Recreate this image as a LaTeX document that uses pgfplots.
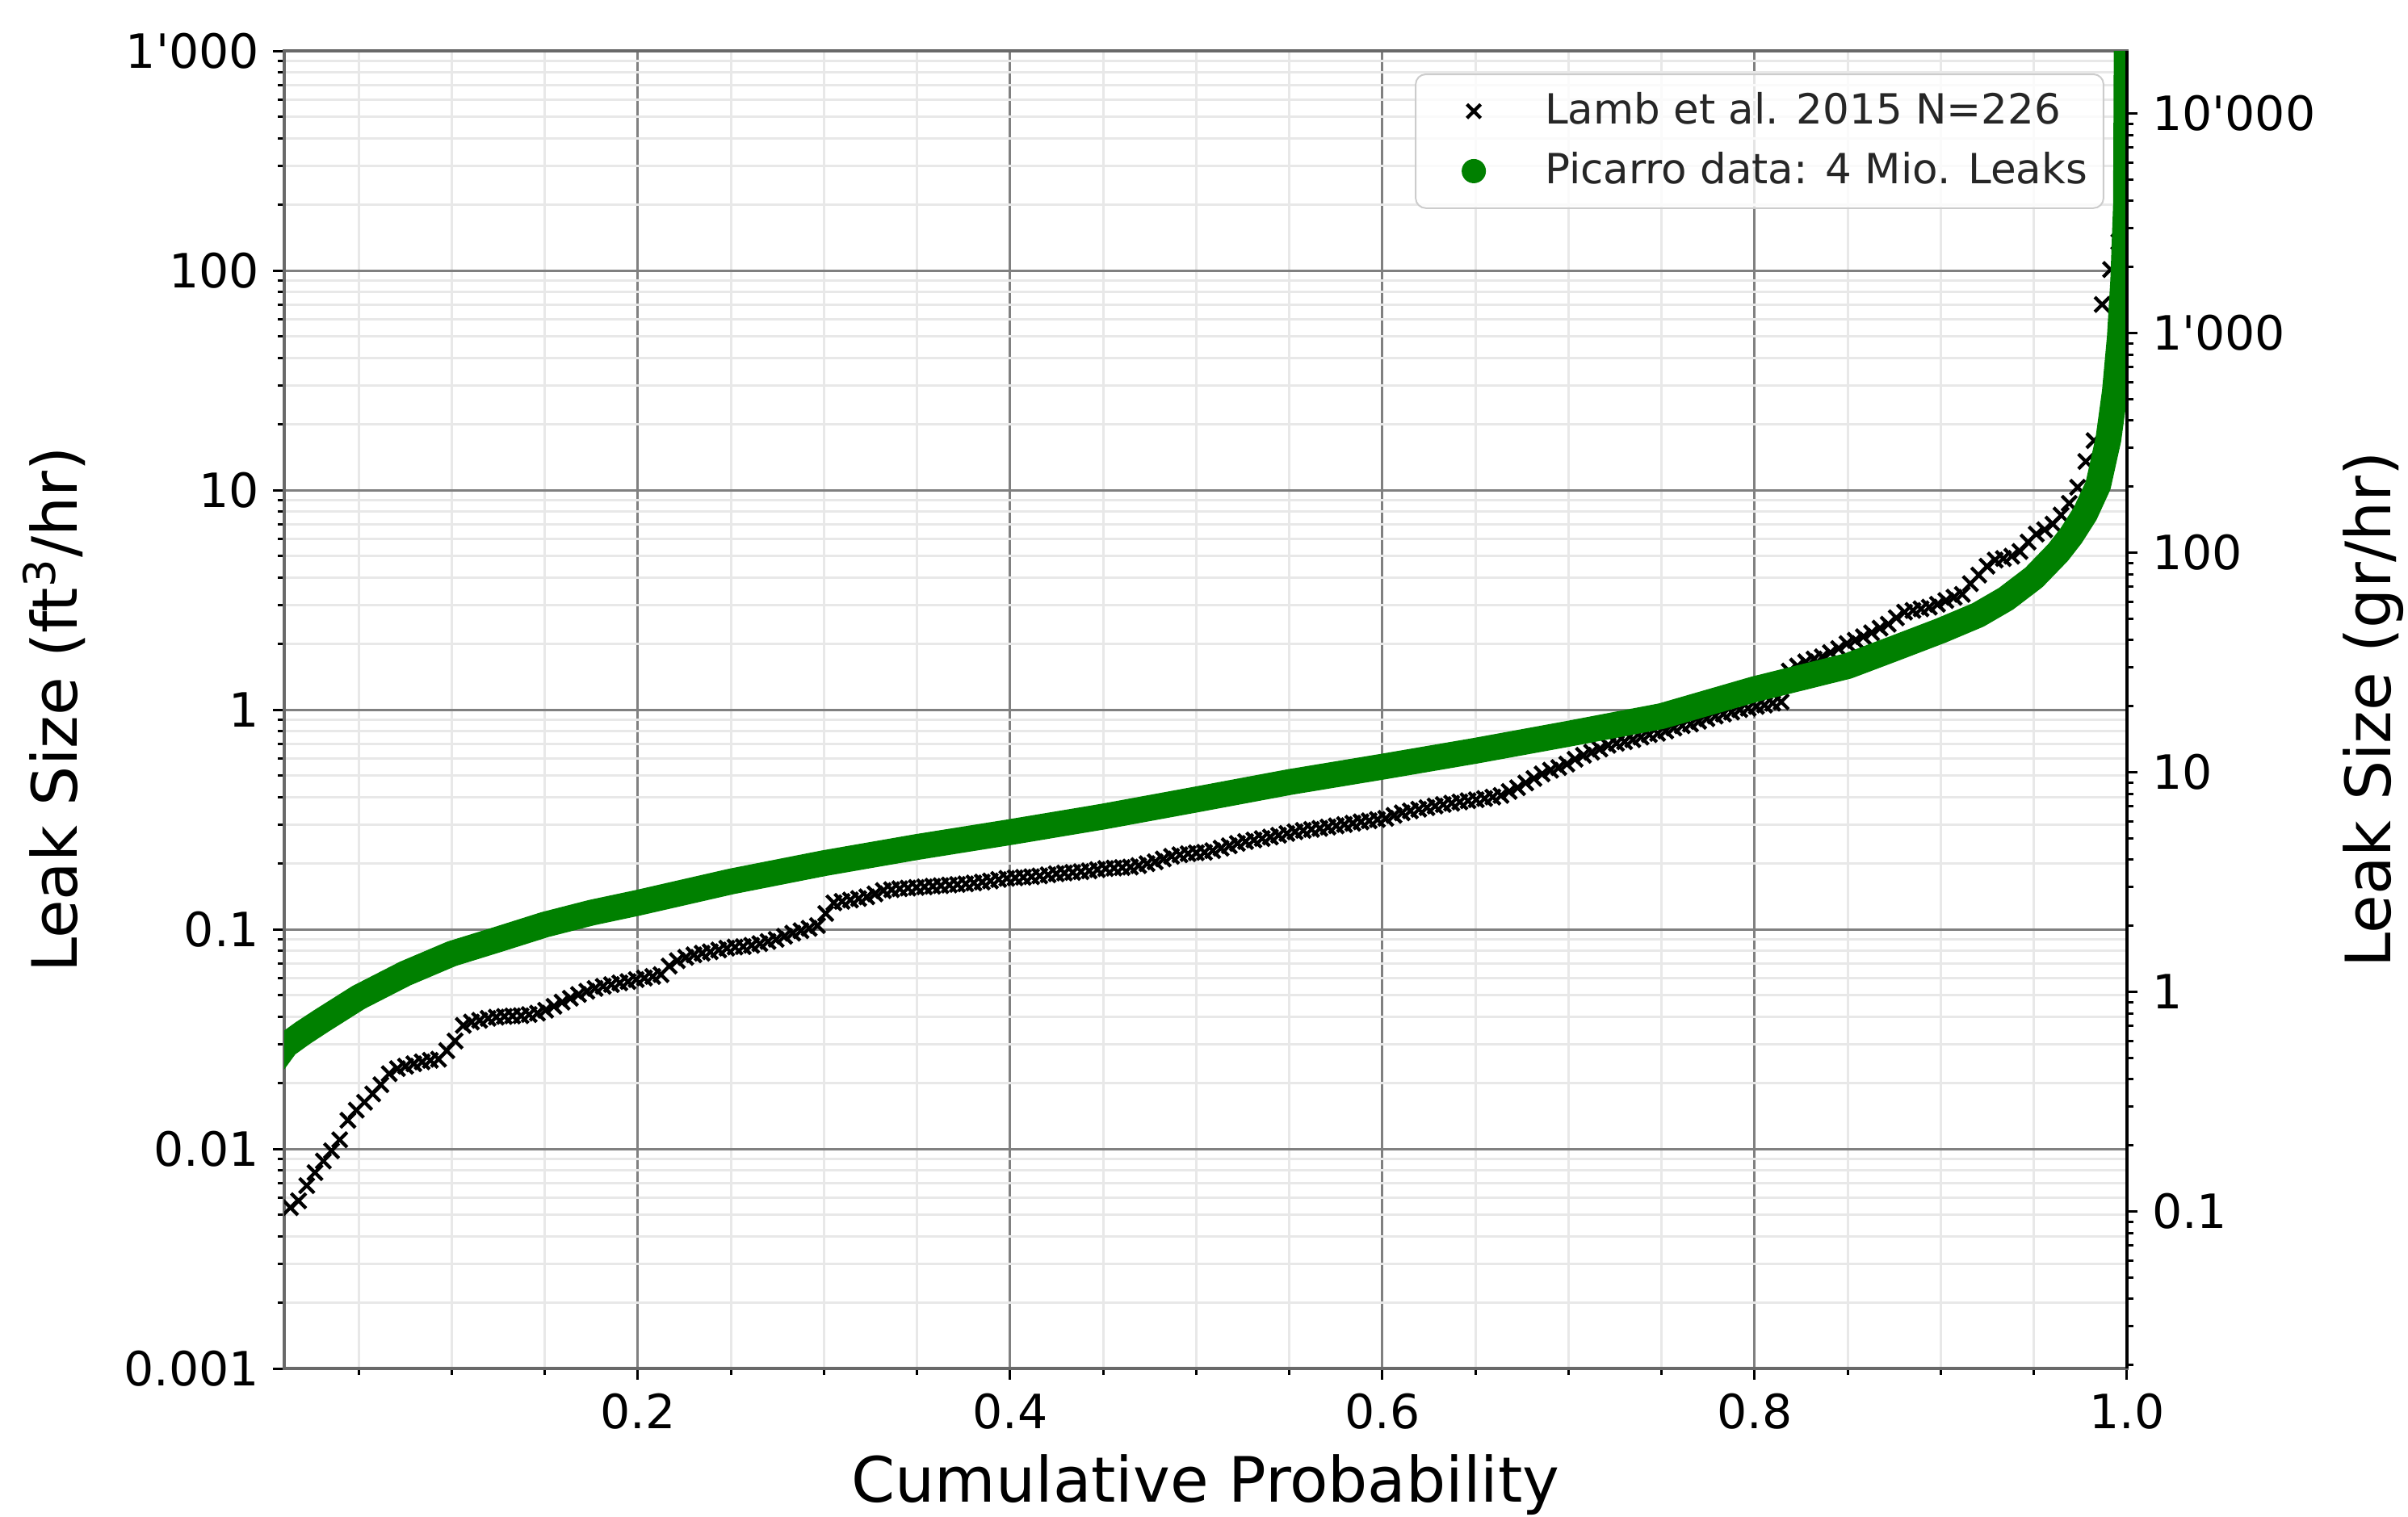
\documentclass[border=0pt]{standalone}
\usepackage{fontspec}
\setmainfont{DejaVu Sans}
\usepackage{pgfplots}
\usepackage{pgfplotstable}
\pgfplotsset{compat=1.18}
\definecolor{pgreen}{RGB}{0,128,0}
\definecolor{spine}{RGB}{105,105,105}
\definecolor{majgrid}{RGB}{128,128,128}
\definecolor{mingrid}{RGB}{232,232,232}
\newcommand{\ap}{\textquotesingle}
\pgfplotstableread{
x y
0.0044 0.0030
0.0097 0.0036
0.0133 0.0054
0.0177 0.0058
0.0221 0.0068
0.0265 0.0078
0.0310 0.0088
0.0354 0.0098
0.0398 0.0110
0.0442 0.0135
0.0487 0.0150
0.0531 0.0163
0.0575 0.0178
0.0619 0.0196
0.0664 0.0220
0.0708 0.0232
0.0752 0.0238
0.0796 0.0244
0.0841 0.0249
0.0885 0.0253
0.0929 0.0256
0.0973 0.0280
0.1018 0.0310
0.1062 0.0365
0.1106 0.0378
0.1150 0.0385
0.1195 0.0393
0.1239 0.0398
0.1283 0.0401
0.1327 0.0403
0.1372 0.0404
0.1416 0.0409
0.1460 0.0415
0.1504 0.0428
0.1549 0.0446
0.1593 0.0466
0.1637 0.0485
0.1681 0.0505
0.1726 0.0522
0.1770 0.0538
0.1814 0.0550
0.1858 0.0560
0.1903 0.0570
0.1947 0.0578
0.1991 0.0590
0.2035 0.0600
0.2080 0.0610
0.2124 0.0622
0.2168 0.0680
0.2212 0.0720
0.2257 0.0745
0.2301 0.0765
0.2345 0.0778
0.2389 0.0790
0.2434 0.0805
0.2478 0.0820
0.2522 0.0830
0.2566 0.0834
0.2611 0.0845
0.2655 0.0860
0.2699 0.0880
0.2743 0.0900
0.2788 0.0930
0.2832 0.0960
0.2876 0.0985
0.2920 0.1010
0.2965 0.1040
0.3009 0.1180
0.3053 0.1320
0.3097 0.1340
0.3142 0.1360
0.3186 0.1380
0.3230 0.1405
0.3274 0.1450
0.3319 0.1500
0.3363 0.1515
0.3407 0.1530
0.3451 0.1540
0.3496 0.1550
0.3540 0.1560
0.3584 0.1570
0.3628 0.1580
0.3673 0.1590
0.3717 0.1600
0.3761 0.1610
0.3805 0.1625
0.3850 0.1640
0.3894 0.1660
0.3938 0.1685
0.3982 0.1705
0.4027 0.1715
0.4071 0.1725
0.4115 0.1735
0.4159 0.1750
0.4204 0.1770
0.4248 0.1790
0.4292 0.1805
0.4336 0.1815
0.4381 0.1830
0.4425 0.1845
0.4469 0.1870
0.4513 0.1890
0.4558 0.1900
0.4602 0.1910
0.4646 0.1920
0.4690 0.1950
0.4735 0.1990
0.4779 0.2030
0.4823 0.2090
0.4867 0.2150
0.4912 0.2185
0.4956 0.2210
0.5000 0.2230
0.5044 0.2240
0.5088 0.2280
0.5133 0.2340
0.5177 0.2400
0.5221 0.2460
0.5265 0.2510
0.5310 0.2550
0.5354 0.2590
0.5398 0.2630
0.5442 0.2680
0.5487 0.2730
0.5531 0.2780
0.5575 0.2820
0.5619 0.2850
0.5664 0.2880
0.5708 0.2920
0.5752 0.2960
0.5796 0.3000
0.5841 0.3040
0.5885 0.3085
0.5929 0.3120
0.5973 0.3160
0.6018 0.3200
0.6062 0.3300
0.6106 0.3390
0.6150 0.3460
0.6195 0.3520
0.6239 0.3580
0.6283 0.3640
0.6327 0.3700
0.6372 0.3750
0.6416 0.3800
0.6460 0.3850
0.6504 0.3890
0.6549 0.3940
0.6593 0.4000
0.6637 0.4070
0.6681 0.4240
0.6726 0.4410
0.6770 0.4640
0.6814 0.4860
0.6858 0.5100
0.6903 0.5300
0.6947 0.5450
0.6991 0.5650
0.7035 0.5950
0.7080 0.6200
0.7124 0.6400
0.7168 0.6620
0.7212 0.6880
0.7257 0.7030
0.7301 0.7150
0.7345 0.7300
0.7389 0.7500
0.7434 0.7700
0.7478 0.7800
0.7522 0.8000
0.7566 0.8250
0.7611 0.8450
0.7655 0.8600
0.7699 0.8850
0.7743 0.9100
0.7788 0.9350
0.7832 0.9550
0.7876 0.9750
0.7920 1.000
0.7965 1.015
0.8009 1.035
0.8053 1.050
0.8097 1.070
0.8142 1.085
0.8186 1.500
0.8230 1.580
0.8274 1.650
0.8319 1.700
0.8363 1.740
0.8407 1.820
0.8451 1.900
0.8496 2.000
0.8540 2.070
0.8584 2.150
0.8628 2.240
0.8673 2.350
0.8717 2.450
0.8761 2.620
0.8805 2.780
0.8850 2.830
0.8894 2.880
0.8938 2.930
0.8982 3.020
0.9027 3.140
0.9071 3.250
0.9115 3.350
0.9159 3.750
0.9204 4.100
0.9248 4.500
0.9292 4.800
0.9336 4.880
0.9381 5.000
0.9425 5.250
0.9469 5.800
0.9513 6.300
0.9558 6.600
0.9602 7.000
0.9646 7.700
0.9690 8.700
0.9735 10.3
0.9779 13.5
0.9823 16.8
0.9867 70
0.9912 101
0.9956 135
1.0000 400
}\lambdata
\pgfplotstableread{
x y
0.003 0.024
0.011 0.0297
0.020 0.0337
0.030 0.0383
0.050 0.0490
0.075 0.0629
0.100 0.0774
0.125 0.0900
0.150 0.1050
0.175 0.1190
0.200 0.1320
0.250 0.1650
0.300 0.2000
0.350 0.2370
0.400 0.2770
0.450 0.3260
0.500 0.3900
0.550 0.4680
0.600 0.5500
0.650 0.6500
0.700 0.7770
0.750 0.9350
0.800 1.24
0.850 1.58
0.875 1.90
0.900 2.29
0.920 2.70
0.935 3.20
0.950 4.0
0.963 5.2
0.970 6.2
0.9775 7.8
0.9845 10.5
0.990 17
0.9935 28
0.9962 50
0.998 90
0.9995 200
1.000 2000
1.000 30000
}\picarrodata
\begin{document}
\begin{tikzpicture}
\useasboundingbox (-70.4pt,-36.6pt) rectangle (526.0pt,339.0pt);
\begin{axis}[
  at={(0pt,0pt)}, anchor=south west,
  scale only axis, width=456.4pt, height=326.4pt,
  xmin=0.01, xmax=1.0,
  ymode=log, ymin=0.001, ymax=1000,
  clip marker paths=true,
  xtick={0.2,0.4,0.6,0.8,1.0},
  xticklabels={0.2,0.4,0.6,0.8,1.0},
  minor xtick={0.05,0.1,0.15,0.25,0.3,0.35,0.45,0.5,0.55,0.65,0.7,0.75,0.85,0.9,0.95},
  ytick={0.001,0.01,0.1,1,10,100,1000},
  yticklabels={0.001,0.01,0.1,1,10,100,1\ap000},
  minor ytick={0.002,0.003,0.004,0.005,0.006,0.007,0.008,0.009,
    0.02,0.03,0.04,0.05,0.06,0.07,0.08,0.09,
    0.2,0.3,0.4,0.5,0.6,0.7,0.8,0.9,
    2,3,4,5,6,7,8,9,20,30,40,50,60,70,80,90,
    200,300,400,500,600,700,800,900},
  tick pos=left,
  tick align=outside,
  major tick length=2.7pt, minor tick length=1.6pt,
  tick style={black, line width=0.6pt},
  axis line style={spine, line width=0.8pt},
  grid=both,
  major grid style={majgrid, line width=0.6pt},
  minor grid style={mingrid, line width=0.6pt},
  tick label style={font=\fontsize{11.7}{14}\selectfont, text=black},
  xlabel={Cumulative Probability},
  ylabel={Leak Size (ft\textsuperscript{3}/hr)},
  every axis x label/.style={at={(axis description cs:0.5,0)}, yshift=-33pt, anchor=base, font=\fontsize{15.5}{18}\selectfont},
  every axis y label/.style={at={(axis description cs:0,0.5)}, xshift=-57pt, rotate=90, anchor=center, font=\fontsize{15.5}{18}\selectfont},
  legend style={at={(1,1)}, anchor=north east, xshift=-5.6pt, yshift=-5.6pt,
    draw=black!20, rounded corners=2.5pt, fill=white, fill opacity=0.8, text opacity=1,
    font=\fontsize{10.3}{12}\selectfont, inner xsep=2pt, inner ysep=2pt,
    nodes={inner ysep=2.5pt}, row sep=0.5pt, text=black!85},
  legend cell align=left,
]
\addplot[only marks, mark=x, mark size=2.6pt, black, mark options={line width=0.85pt},
  legend image code/.code={%
    \path[draw=none] (0pt,0pt) -- (28pt,0pt);
    \draw[black, draw opacity=1, line width=0.8pt, mark size=2.4pt] plot[only marks, mark=x] coordinates {(12.4pt,0pt)};}]
  table[x=x, y=y] {\lambdata};
\addlegendentry{Lamb et al. 2015 N=226}
\addplot[pgreen, line width=6.4pt, line cap=round, line join=round, no marks,
  legend image code/.code={%
    \path[draw=none] (0pt,0pt) -- (28pt,0pt);
    \fill[pgreen, draw=none, fill opacity=1] (12.4pt,0pt) circle (3pt);}]
  table[x=x, y=y] {\picarrodata};
\addlegendentry{Picarro data: 4 Mio. Leaks}
\end{axis}
\begin{axis}[
  at={(0pt,0pt)}, anchor=south west,
  scale only axis, width=456.4pt, height=326.4pt,
  xmin=0.01, xmax=1.0,
  ymode=log, ymin=0.0193, ymax=19300,
  axis x line=none, axis y line*=right,
  axis line style={black, line width=0.8pt},
  ytick={0.1,1,10,100,1000,10000},
  yticklabels={0.1,1,10,100,1\ap000,10\ap000},
  minor ytick={0.02,0.03,0.04,0.05,0.06,0.07,0.08,0.09,
    0.2,0.3,0.4,0.5,0.6,0.7,0.8,0.9,
    2,3,4,5,6,7,8,9,20,30,40,50,60,70,80,90,
    200,300,400,500,600,700,800,900,
    2000,3000,4000,5000,6000,7000,8000,9000},
  tick align=outside,
  major tick length=2.7pt, minor tick length=1.6pt,
  tick style={black, line width=0.6pt},
  tick label style={font=\fontsize{11.7}{14}\selectfont, text=black},
  ylabel={Leak Size (gr/hr)},
  every axis y label/.style={at={(axis description cs:1,0.5)}, xshift=61pt, rotate=90, anchor=center, font=\fontsize{15.5}{18}\selectfont},
]
\addplot[draw=none, no marks] coordinates {(0.5,1)};
\end{axis}
\end{tikzpicture}
\end{document}
